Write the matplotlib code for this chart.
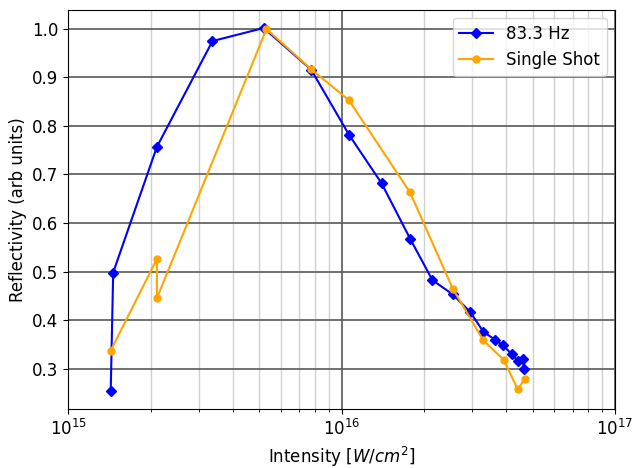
import matplotlib
matplotlib.use('Agg')
import matplotlib.pyplot as plt
import numpy as np

plt.rcParams['font.size'] = 12

# 83.3 Hz data
hz_intensity = [1.43e15, 1.46e15, 2.11e15, 3.37e15, 5.19e15, 7.74e15, 1.064e16,
                1.40e16, 1.78e16, 2.15e16, 2.55e16, 2.96e16, 3.30e16, 3.65e16,
                3.89e16, 4.21e16, 4.41e16, 4.60e16, 4.65e16]
hz_refl = [0.254, 0.498, 0.757, 0.975, 1.002, 0.916, 0.782,
           0.682, 0.568, 0.482, 0.453, 0.416, 0.376, 0.359,
           0.348, 0.329, 0.316, 0.320, 0.300]

# Single shot data
ss_intensity = [1.43e15, 2.11e15, 2.11e15, 5.31e15, 7.74e15, 1.064e16,
                1.78e16, 2.55e16, 3.30e16, 3.92e16, 4.41e16, 4.67e16]
ss_refl = [0.337, 0.526, 0.445, 1.0, 0.917, 0.853,
           0.663, 0.465, 0.358, 0.318, 0.257, 0.278]

fig = plt.figure(figsize=(6.32, 4.68), dpi=100)
ax = fig.add_axes([0.108, 0.126, 0.865, 0.853])

ax.plot(hz_intensity, hz_refl, color='blue', marker='D', markersize=5, label='83.3 Hz')
ax.plot(ss_intensity, ss_refl, color='orange', marker='o', markersize=5, label='Single Shot')

ax.set_xscale('log')
ax.set_xlim(1e15, 1e17)

# grid: dark major, light minor
ax.grid(which='major', color='0.35', linewidth=1.2)
ax.grid(which='minor', color='0.82', linewidth=1)

ax.set_xlabel('Intensity [$W/cm^2$]')
ax.set_ylabel('Reflectivity (arb units)')
ax.legend(loc='upper right')

fig.savefig('out.png', dpi=100)
